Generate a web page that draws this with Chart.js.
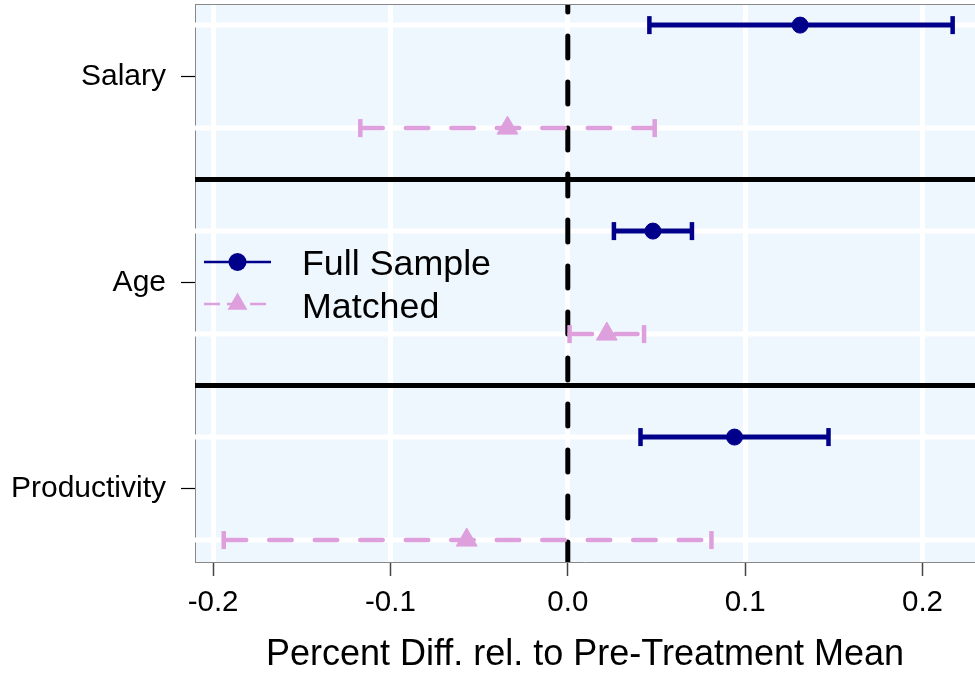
<!DOCTYPE html>
<html><head><meta charset="utf-8">
<script src="https://cdn.jsdelivr.net/npm/chart.js@4/dist/chart.umd.min.js"></script>
<style>html,body{margin:0;padding:0;background:#fff;overflow:hidden;} canvas{display:block;}</style>
</head><body>
<canvas id="c" width="975" height="679"></canvas>
<script>
// ---- data ----
const categories = ['Salary', 'Age', 'Productivity'];
const seriesNames = ['Full Sample', 'Matched'];
const fullEst = [0.131, 0.048, 0.094];
const fullLo  = [0.046, 0.026, 0.041];
const fullHi  = [0.217, 0.070, 0.147];
const matchedEst = [-0.034, 0.022, -0.057];
const matchedLo  = [-0.117, 0.001, -0.194];
const matchedHi  = [0.049, 0.043, 0.081];
const xTicks = [-0.2, -0.1, 0.0, 0.1, 0.2];
const xTickLabels = ['-0.2', '-0.1', '0.0', '0.1', '0.2'];
const refValue = 0;
const xTitle = 'Percent Diff. rel. to Pre-Treatment Mean';

// ---- styles ----
const NAVY = '#00008B', PLUM = '#DDA0DD', BG = '#EEF6FE';
const FONT = "'Liberation Sans', Arial, Helvetica, sans-serif";
Chart.defaults.font.family = FONT;
Chart.defaults.color = '#000';

const fullRow = i => 2 * i + 1;
const matchedRow = i => 2 * i + 2;
const catPos = i => 2 * i + 1.5;

const datasets = [];
categories.forEach((c, i) => {
  datasets.push({
    label: seriesNames[0] + ' CI ' + c,
    data: [{x: fullLo[i], y: fullRow(i)}, {x: fullHi[i], y: fullRow(i)}],
    showLine: true, borderColor: NAVY, borderWidth: 5, borderCapStyle: 'butt',
    pointStyle: 'line', pointRotation: 90, pointRadius: 9, pointBorderWidth: 4.5,
    pointBorderColor: NAVY, pointBackgroundColor: NAVY
  });
  datasets.push({
    label: seriesNames[1] + ' CI ' + c,
    data: [{x: matchedLo[i], y: matchedRow(i)}, {x: matchedHi[i], y: matchedRow(i)}],
    showLine: true, borderColor: PLUM, borderWidth: 4.5, borderCapStyle: 'round',
    borderDash: [22.5, 23],
    pointStyle: 'line', pointRotation: 90, pointRadius: 9, pointBorderWidth: 4.5,
    pointBorderColor: PLUM, pointBackgroundColor: PLUM
  });
});
datasets.push({
  label: seriesNames[0],
  data: categories.map((c, i) => ({x: fullEst[i], y: fullRow(i)})),
  showLine: false, pointStyle: 'circle', pointRadius: 8,
  pointBackgroundColor: NAVY, pointBorderColor: NAVY, pointBorderWidth: 1
});
datasets.push({
  label: seriesNames[1],
  data: categories.map((c, i) => ({x: matchedEst[i], y: matchedRow(i)})),
  showLine: false, pointStyle: 'triangle', pointRadius: 12,
  pointBackgroundColor: PLUM, pointBorderColor: PLUM, pointBorderWidth: 1
});

function seg(ctx, x1, y1, x2, y2) { ctx.beginPath(); ctx.moveTo(x1, y1); ctx.lineTo(x2, y2); ctx.stroke(); }
function noPad(s) { s.paddingTop = 0; s.paddingBottom = 0; s.paddingLeft = 0; s.paddingRight = 0; }

const decor = {
  id: 'decor',
  beforeDraw(chart) {
    const {ctx, chartArea: a} = chart;
    ctx.save();
    ctx.fillStyle = BG;
    ctx.fillRect(a.left, a.top, a.right - a.left, a.bottom - a.top);
    ctx.restore();
  },
  beforeDatasetsDraw(chart) {
    const {ctx, chartArea: a, scales: {x, y}} = chart;
    ctx.save();
    ctx.beginPath(); ctx.rect(a.left, a.top, a.right - a.left, a.bottom - a.top); ctx.clip();
    // white grid lines at data rows
    ctx.strokeStyle = '#fff'; ctx.lineWidth = 5;
    categories.forEach((c, i) => {
      [fullRow(i), matchedRow(i)].forEach(r => { const py = y.getPixelForValue(r); seg(ctx, a.left, py, a.right, py); });
    });
    // black separators between categories
    ctx.strokeStyle = '#000'; ctx.lineWidth = 5;
    for (let i = 0; i < categories.length - 1; i++) {
      const py = y.getPixelForValue(matchedRow(i) + 0.5);
      seg(ctx, a.left, py, a.right, py);
    }
    // dashed reference line at 0
    const px = x.getPixelForValue(refValue);
    ctx.setLineDash([22, 24]); ctx.lineDashOffset = 14; ctx.lineCap = 'round';
    seg(ctx, px, a.top, px, a.bottom);
    ctx.restore();
    // top border
    ctx.save();
    ctx.strokeStyle = '#888'; ctx.lineWidth = 1;
    seg(ctx, a.left, a.top + 0.5, a.right, a.top + 0.5);
    ctx.restore();
  },
  afterDraw(chart) {
    const {ctx, chartArea: a} = chart;
    const lx0 = a.left + 9, lx1 = a.left + 76, mx = a.left + 42.5, tx = a.left + 107;
    const y1 = a.top + 258, y2 = a.top + 300;
    ctx.save();
    // Full Sample sample
    ctx.strokeStyle = NAVY; ctx.lineWidth = 2.5;
    seg(ctx, lx0, y1, lx1, y1);
    ctx.fillStyle = NAVY; ctx.beginPath(); ctx.arc(mx, y1, 9, 0, Math.PI * 2); ctx.fill();
    // Matched sample
    ctx.strokeStyle = PLUM; ctx.lineWidth = 2.5; ctx.setLineDash([16, 7]);
    seg(ctx, lx0, y2, lx1, y2);
    ctx.setLineDash([]);
    const r = 11.5;
    ctx.fillStyle = PLUM; ctx.beginPath();
    ctx.moveTo(mx, y2 - r);
    ctx.lineTo(mx + r * 0.866, y2 + r / 2);
    ctx.lineTo(mx - r * 0.866, y2 + r / 2);
    ctx.closePath(); ctx.fill();
    // text
    ctx.fillStyle = '#000';
    ctx.font = '35.8px ' + FONT;
    ctx.textBaseline = 'alphabetic'; ctx.textAlign = 'left';
    ctx.fillText(seriesNames[0], tx, y1 + 13);
    ctx.fillText(seriesNames[1], tx, y2 + 13.5);
    ctx.restore();
  }
};

new Chart(document.getElementById('c'), {
  type: 'scatter',
  data: {datasets},
  plugins: [decor],
  options: {
    responsive: false, animation: false, events: [], devicePixelRatio: 1,
    layout: {autoPadding: false, padding: {top: 4, right: 0, bottom: 0, left: 0}},
    plugins: {legend: {display: false}, tooltip: {enabled: false}},
    scales: {
      x: {
        type: 'linear', min: -0.2102, max: 0.2296,
        afterBuildTicks: s => { s.ticks = xTicks.map(v => ({value: v})); },
        afterFit: s => { s.height = 117; noPad(s); },
        ticks: {callback: (v, i) => xTickLabels[i], font: {size: 29.5}, padding: 9, color: '#000', maxRotation: 0, autoSkip: false},
        grid: {color: '#fff', lineWidth: 5, tickColor: '#444', tickWidth: 1.5, tickLength: 14},
        border: {display: true, color: '#888', width: 1},
        title: {display: true, text: xTitle, font: {size: 36}, padding: {top: 0, bottom: 2}, color: '#000'}
      },
      y: {
        type: 'linear', reverse: true, min: 0.795, max: 6.213,
        afterBuildTicks: s => { s.ticks = categories.map((c, i) => ({value: catPos(i)})); },
        afterFit: s => { s.width = 195; noPad(s); },
        ticks: {callback: (v, i) => categories[i], font: {size: 30}, padding: 15, color: '#000', autoSkip: false},
        grid: {drawOnChartArea: false, tickColor: '#000', tickWidth: 1.2, tickLength: 14},
        border: {display: true, color: '#888', width: 1}
      }
    }
  }
});
</script>
</body></html>
